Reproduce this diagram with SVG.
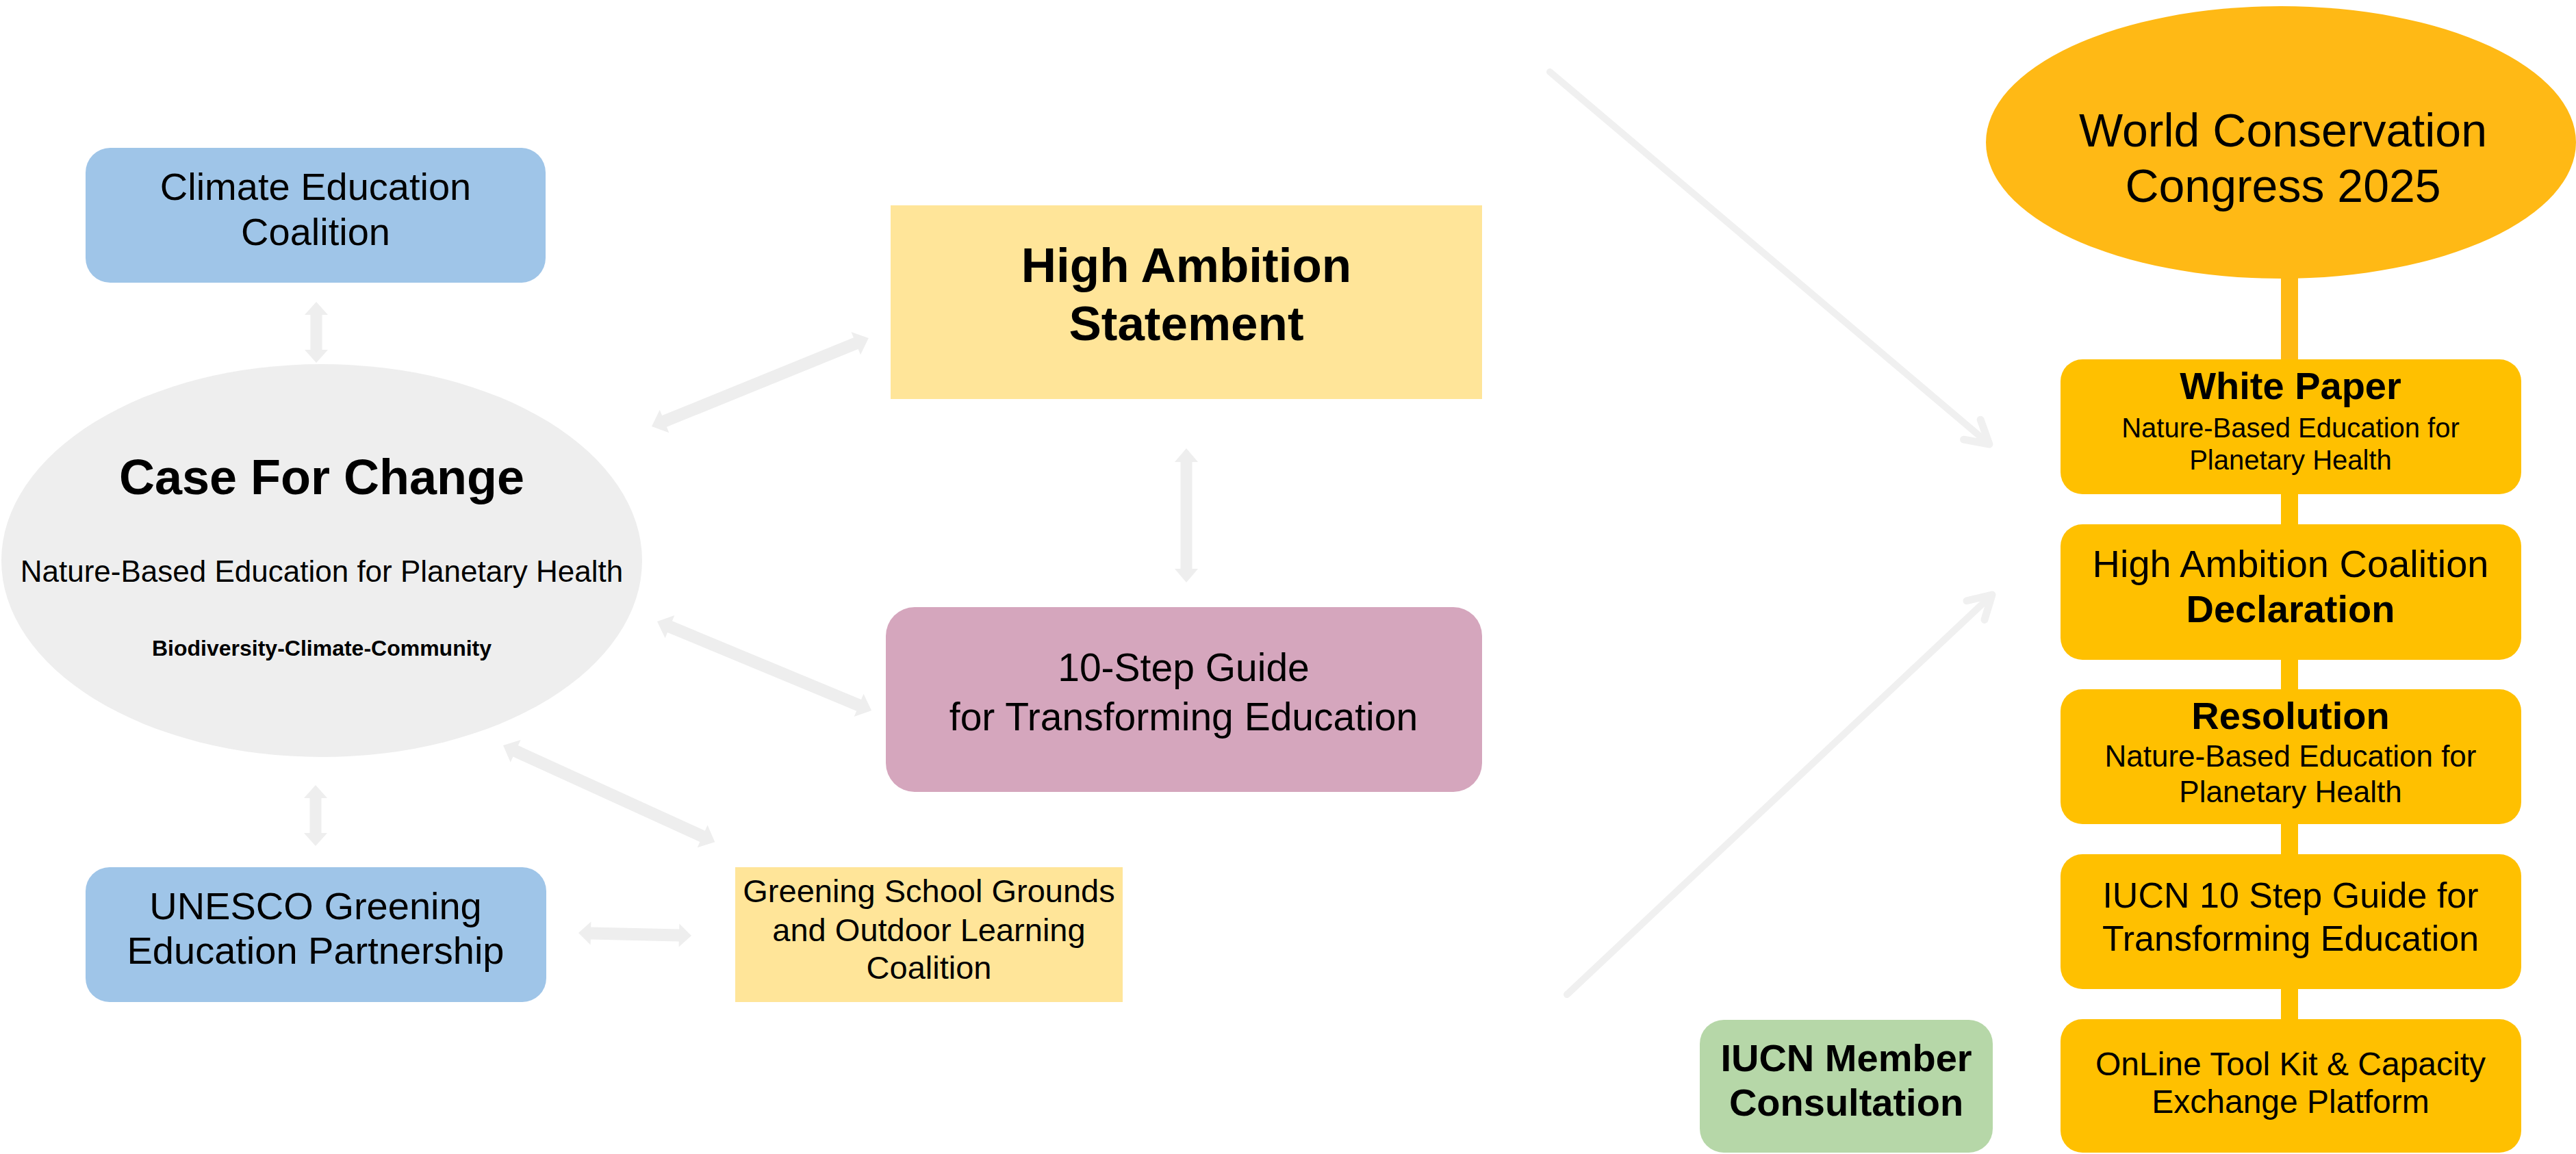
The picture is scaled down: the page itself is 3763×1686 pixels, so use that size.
<svg xmlns="http://www.w3.org/2000/svg" width="3763" height="1686" viewBox="0 0 3763 1686">
<style>
text{font-family:"Liberation Sans",Arial,sans-serif;fill:#000;text-anchor:middle}
.b{font-weight:bold}
.blk{fill:#eeeeee}
.thin{fill:none;stroke:#f0f0f0;stroke-width:10;stroke-linecap:round}
.bar{fill:#ffb915}
.org{fill:#ffc000}
</style>
<defs>
<marker id="open" markerUnits="userSpaceOnUse" viewBox="-50 -30 60 60" markerWidth="60" markerHeight="60" refX="0" refY="0" orient="auto" overflow="visible">
<path d="M-33,-19 L0,0 L-33,19" fill="none" stroke="#f0f0f0" stroke-width="11" stroke-linecap="round" stroke-linejoin="round"/>
</marker>
</defs>
<rect width="3763" height="1686" fill="#ffffff"/>
<g id="connectors">
<path class="blk" transform="translate(462,441) rotate(90)" d="M0,0 L19,-17 L19,-8.5 L70,-8.5 L70,-17 L89,0 L70,17 L70,8.5 L19,8.5 L19,17 Z"/>
<path class="blk" transform="translate(461,1147) rotate(90)" d="M0,0 L19,-17 L19,-8.5 L70,-8.5 L70,-17 L89,0 L70,17 L70,8.5 L19,8.5 L19,17 Z"/>
<path class="blk" transform="translate(952,623) rotate(-22.15)" d="M0,0 L20,-18 L20,-9 L322,-9 L322,-18 L342,0 L322,18 L322,9 L20,9 L20,18 Z"/>
<path class="blk" transform="translate(960,908) rotate(22.55)" d="M0,0 L20,-18 L20,-9 L319,-9 L319,-18 L339,0 L319,18 L319,9 L20,9 L20,18 Z"/>
<path class="blk" transform="translate(1733,655) rotate(90)" d="M0,0 L20,-17 L20,-8.5 L176,-8.5 L176,-17 L196,0 L176,17 L176,8.5 L20,8.5 L20,17 Z"/>
<path class="blk" transform="translate(735,1089) rotate(24.53)" d="M0,0 L20,-18 L20,-9 L320,-9 L320,-18 L340,0 L320,18 L320,9 L20,9 L20,18 Z"/>
<path class="blk" transform="translate(845,1363) rotate(1.39)" d="M0,0 L18,-17 L18,-9 L147,-9 L147,-17 L165,0 L147,17 L147,9 L18,9 L18,17 Z"/>
<line class="thin" x1="2264" y1="105" x2="2906" y2="649" marker-end="url(#open)"/>
<line class="thin" x1="2289" y1="1453" x2="2910" y2="869" marker-end="url(#open)"/>
<rect class="bar" x="3332" y="395" width="25" height="130"/>
<rect class="org" x="3332" y="720" width="25" height="48"/>
<rect class="org" x="3332" y="962" width="25" height="47"/>
<rect class="org" x="3332" y="1202" width="25" height="48"/>
<rect class="org" x="3332" y="1443" width="25" height="48"/>
</g>
<g id="climate-education-coalition">
<rect x="125" y="216" width="672" height="197" rx="36" fill="#9fc5e8"/>
<text x="461" y="292" font-size="56">Climate Education</text>
<text x="461" y="358" font-size="56">Coalition</text>
</g>
<g id="case-for-change">
<ellipse cx="470" cy="819" rx="468" ry="287" fill="#eeeeee"/>
<text x="470" y="722" font-size="72" class="b">Case For Change</text>
<text x="470" y="850" font-size="44">Nature-Based Education for Planetary Health</text>
<text x="470" y="958" font-size="32" class="b">Biodiversity-Climate-Community</text>
</g>
<g id="high-ambition-statement">
<rect x="1301" y="300" width="864" height="283" fill="#ffe599"/>
<text x="1733" y="412" font-size="71" class="b">High Ambition</text>
<text x="1733" y="497" font-size="71" class="b">Statement</text>
</g>
<g id="ten-step-guide">
<rect x="1294" y="887" width="871" height="270" rx="42" fill="#d5a6bd"/>
<text x="1729" y="995" font-size="57">10-Step Guide</text>
<text x="1729" y="1067" font-size="57">for Transforming Education</text>
</g>
<g id="unesco-greening">
<rect x="125" y="1267" width="673" height="197" rx="35" fill="#9fc5e8"/>
<text x="461" y="1343" font-size="56">UNESCO Greening</text>
<text x="461" y="1408" font-size="56">Education Partnership</text>
</g>
<g id="greening-school-grounds">
<rect x="1074" y="1267" width="566" height="197" fill="#ffe599"/>
<text x="1357" y="1318" font-size="47">Greening School Grounds</text>
<text x="1357" y="1375" font-size="47">and Outdoor Learning</text>
<text x="1357" y="1430" font-size="47">Coalition</text>
</g>
<g id="world-conservation-congress">
<ellipse cx="3332" cy="208" rx="431" ry="199" fill="#ffb915"/>
<text x="3335" y="214" font-size="68">World Conservation</text>
<text x="3335" y="295" font-size="68">Congress 2025</text>
</g>
<g id="white-paper">
<rect class="org" x="3010" y="525" width="673" height="197" rx="32"/>
<text x="3346" y="583" font-size="56" class="b">White Paper</text>
<text x="3346" y="639" font-size="40">Nature-Based Education for</text>
<text x="3346" y="686" font-size="40">Planetary Health</text>
</g>
<g id="hac-declaration">
<rect class="org" x="3010" y="766" width="673" height="198" rx="32"/>
<text x="3346" y="843" font-size="56">High Ambition Coalition</text>
<text x="3346" y="909" font-size="56" class="b">Declaration</text>
</g>
<g id="resolution">
<rect class="org" x="3010" y="1007" width="673" height="197" rx="32"/>
<text x="3346" y="1065" font-size="56" class="b">Resolution</text>
<text x="3346" y="1120" font-size="44">Nature-Based Education for</text>
<text x="3346" y="1172" font-size="44">Planetary Health</text>
</g>
<g id="iucn-10-step-guide">
<rect class="org" x="3010" y="1248" width="673" height="197" rx="32"/>
<text x="3346" y="1326" font-size="52">IUCN 10 Step Guide for</text>
<text x="3346" y="1389" font-size="52">Transforming Education</text>
</g>
<g id="online-toolkit">
<rect class="org" x="3010" y="1489" width="673" height="195" rx="32"/>
<text x="3346" y="1571" font-size="48">OnLine Tool Kit &amp; Capacity</text>
<text x="3346" y="1626" font-size="48">Exchange Platform</text>
</g>
<g id="iucn-member-consultation">
<rect x="2483" y="1490" width="428" height="194" rx="35" fill="#b6d7a8"/>
<text x="2697" y="1565" font-size="56" class="b">IUCN Member</text>
<text x="2697" y="1630" font-size="56" class="b">Consultation</text>
</g>
</svg>
